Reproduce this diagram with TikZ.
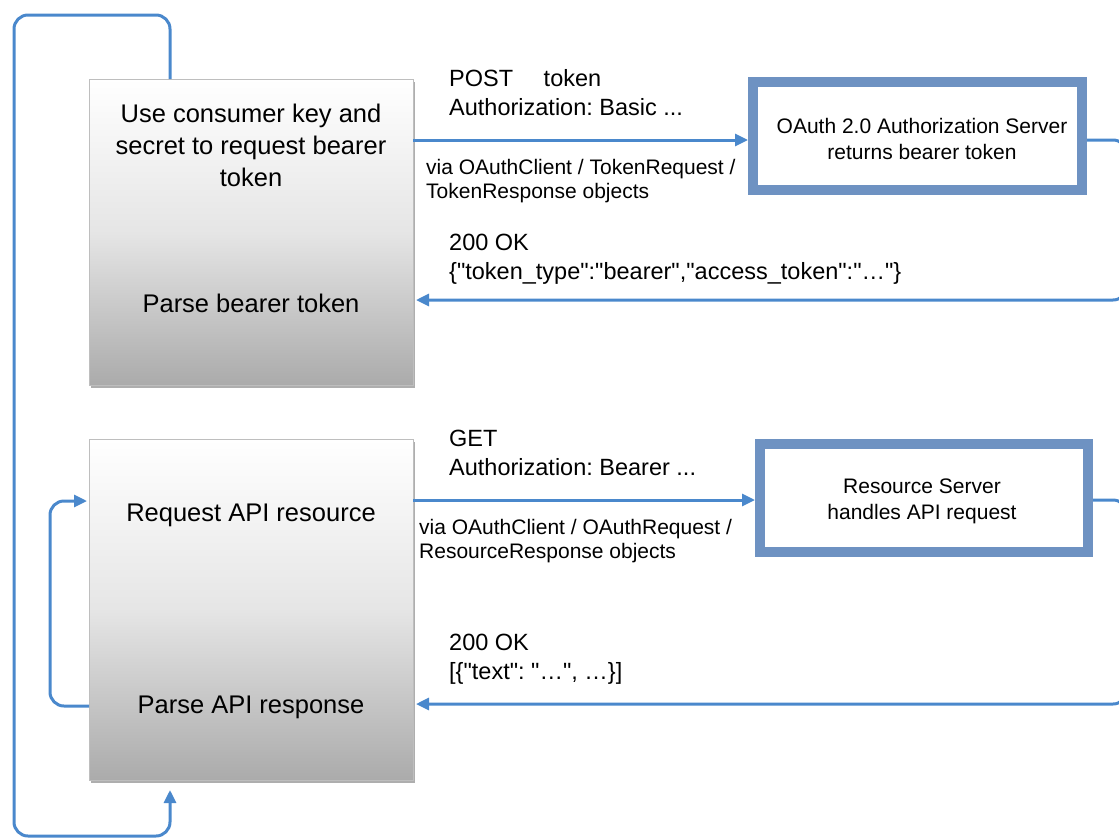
\documentclass[tikz,border=0pt]{standalone}
\usepackage{fontspec}
\setmainfont{Liberation Sans}[Ligatures=TeXOff]
\usetikzlibrary{arrows.meta,shadows,calc}
\definecolor{conncol}{RGB}{74,136,204}
\definecolor{srvcol}{RGB}{110,146,194}
\definecolor{boxedge}{RGB}{190,190,190}
\newcommand\qq{\symbol{34}}
\frenchspacing
\begin{document}
\begin{tikzpicture}[x=1pt,y=-1pt,
  conn/.style={draw=conncol, line width=3pt, rounded corners=14pt},
  tip/.style={-{Triangle[length=13pt,width=12pt]}},
  client/.style={draw=boxedge, line width=1pt, rectangle, top color=white, bottom color=black!33, middle color=black!10,
     drop shadow={shadow xshift=1.5pt, shadow yshift=-3pt, opacity=0.45, fill=black!70}},
  server/.style={draw=srvcol, line width=10pt, rectangle, fill=white, inner sep=0pt},
  boxtxt/.style={font=\fontsize{25.5}{32}\selectfont, align=center, inner sep=0pt},
  srvtxt/.style={font=\fontsize{21}{26}\selectfont, align=center, inner sep=0pt},
  lbl/.style={font=\fontsize{23.5}{29}\selectfont, align=left, anchor=north west, inner sep=0pt},
  sublbl/.style={font=\fontsize{21}{24}\selectfont, align=left, anchor=north west, inner sep=0pt}
]
\useasboundingbox (0,0) rectangle (1119,838);

% client boxes
\node[client, minimum width=324pt, minimum height=306pt] (box1) at (251,232) {};
\node[client, minimum width=324pt, minimum height=341pt] (box2) at (251,609.5) {};

\node[boxtxt] (t1) at (251,145) {Use consumer key and\\secret to request bearer\\token};
\node[boxtxt] (t2) at (251,303) {Parse bearer token};
\node[boxtxt] (t3) at (251,515) {Request API resource};
\node[boxtxt] (t4) at (251,707) {Parse API response};

% servers
\node[server, minimum width=329pt, minimum height=108pt] (auth) at (917.5,136) {};
\node[srvtxt] (authtxt) at (922,139) {OAuth 2.0 Authorization Server\\returns bearer token};
\node[server, minimum width=328pt, minimum height=108pt] (res) at (924,498) {};
\node[srvtxt] (restxt) at (922,501) {Resource Server\\handles API request};

% labels
\node[lbl] (l1) at (449,69) {POST\hspace{1.3em}token\\Authorization: Basic ...};
\node[sublbl] (l2) at (426,159) {via OAuthClient / TokenRequest /\\TokenResponse objects};
\node[lbl] (l3) at (449,234) {200 OK\\\{\qq token\_type\qq:\qq bearer\qq,\qq access\_token\qq:\qq…\qq\}};
\node[lbl] (l4) at (449,430) {GET\\Authorization: Bearer ...};
\node[sublbl] (l5) at (419,519) {via OAuthClient / OAuthRequest /\\ResourceResponse objects};
\node[lbl] (l6) at (449,634) {200 OK\\\relax[\{\qq text\qq: \qq…\qq, …\}]};

% coordinates
\coordinate (o1) at (170,79);
\coordinate (o2) at (170,790);
\coordinate (i1) at (89,706);
\coordinate (i2) at (87,501);
\coordinate (a1) at (413,140);
\coordinate (a2) at (413,300);
\coordinate (r1) at (413,500);
\coordinate (r2) at (413,704);

% outer loop
\draw[conn, tip] (o1) -- (170,15) -- (14,15) -- (14,836) -- (170,836) -- (o2);
% inner loop
\draw[conn, tip] (i1) -- (50,706) -- (50,501) -- (i2);
% requests
\draw[conn, tip] (a1) -- (auth.west |- a1);
\draw[conn, tip] (r1) -- (res.west |- r1);
% responses
\draw[conn, tip] (auth.east |- a1) -- (1127,140) -- (1127,300) -- ($(a2)+(3,0)$);
\draw[conn, tip] (res.east |- r1) -- (1127,500) -- (1127,704) -- ($(r2)+(3,0)$);
\end{tikzpicture}
\end{document}
